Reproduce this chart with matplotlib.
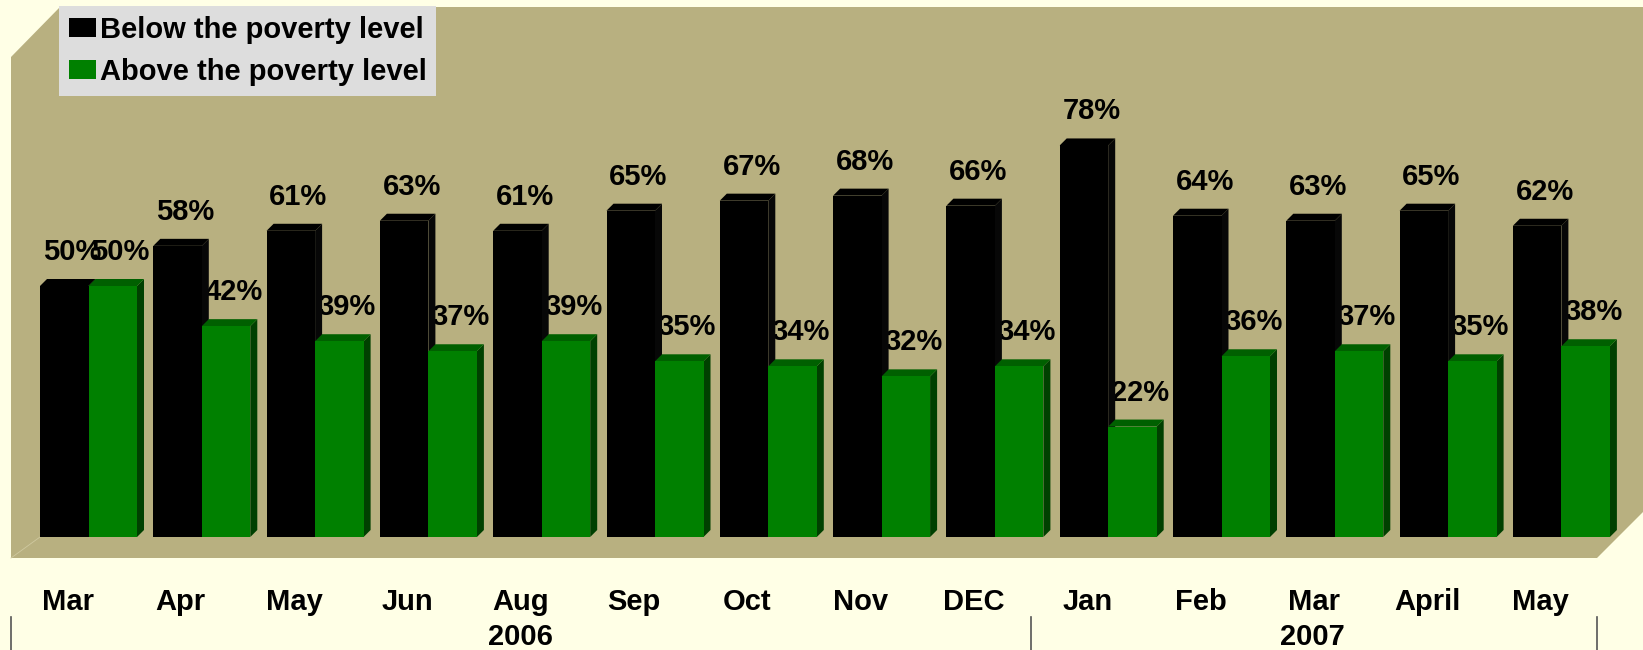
import matplotlib
matplotlib.use("Agg")
import matplotlib.pyplot as plt
from matplotlib.patches import Polygon, Patch
from matplotlib.lines import Line2D
import numpy as np

months = ["Mar", "Apr", "May", "Jun", "Aug", "Sep", "Oct", "Nov", "DEC", "Jan", "Feb", "Mar", "April", "May"]
below = [50, 58, 61, 63, 61, 65, 67, 68, 66, 78, 64, 63, 65, 62]
above = [50, 42, 39, 37, 39, 35, 34, 32, 34, 22, 36, 37, 35, 38]
series_names = ["Below the poverty level", "Above the poverty level"]
years = ["2006", "2007"]

W, H = 1643, 650
BG, WALL = "#FFFFE6", "#B8B080"
BLACK = ("#000000", "#000000", "#070707")
GREEN = ("#008000", "#006000", "#004000")
FONT = ["Liberation Sans", "DejaVu Sans"]
FS = 21

plt.rcParams["font.family"] = FONT
plt.rcParams["font.weight"] = "bold"
fig = plt.figure(figsize=(W / 100, H / 100), dpi=100, facecolor=BG)


def fx(px):
    return px / W


def fy(py):
    return 1 - py / H


# plot wall and floor, with the category divider lines, in figure pixels
wall = [(11, 57), (60, 7), (W, 7), (W, 512), (1597, 558), (11, 558)]
fig.patches.append(Polygon([(fx(a), fy(b)) for a, b in wall], closed=True, transform=fig.transFigure,
                           facecolor=WALL, edgecolor="none", zorder=-2))
fig.add_artist(Line2D([fx(11), fx(40)], [fy(558), fy(537)], color="#CFC9A0", lw=0.6, zorder=-1))
for px in (11, 1031, 1597):
    fig.add_artist(Line2D([fx(px), fx(px)], [fy(617), fy(650)], color="#555555", lw=1.2, zorder=-1))

BASE = 537
PX_PCT = 5.02
PITCH = 113.3
CENTER0 = 88.5
ax = fig.add_axes([0, 1 - BASE / H, 1, BASE / H], zorder=2)
ax.set_xlim(-CENTER0 / PITCH, (W - CENTER0) / PITCH)
ax.set_ylim(0, BASE / PX_PCT)
ax.patch.set_visible(False)
for s in ax.spines.values():
    s.set_visible(False)
ax.set_yticks([])

x = np.arange(len(months))
bw = 48.5 / PITCH
dx, dy = 7 / PITCH, 7 / PX_PCT


def bars(xs, vals, cols, z):
    for xi, v in zip(xs, vals):
        l, r = xi, xi + bw
        ax.add_patch(Polygon([(r, 0), (r + dx, dy), (r + dx, v + dy), (r, v)], closed=True,
                             facecolor=cols[2], edgecolor="none", zorder=z))
        ax.add_patch(Polygon([(l, v), (l + dx, v + dy), (r + dx, v + dy), (r, v)], closed=True,
                             facecolor=cols[1], edgecolor="none", zorder=z))
    ax.bar(xs, vals, width=bw, align="edge", color=cols[0], linewidth=0, zorder=z + 0.1)


bars(x - bw, below, BLACK, 3)
bars(x, above, GREEN, 4)


def labels(xs, vals, z):
    for xi, v in zip(xs, vals):
        ax.annotate(f"{v}%", (xi, v), xytext=(0, 26), textcoords="offset pixels", ha="center",
                    va="baseline", fontsize=FS, fontweight="bold", color="#000000", zorder=z,
                    annotation_clip=False)


labels(x - bw / 2 + 7.5 / PITCH, below, 5)
labels(x + bw / 2 + 7.5 / PITCH, above, 2)

ax.set_xticks(x - 21 / PITCH, months)
ax.tick_params(axis="x", length=0, pad=37, labelsize=FS)
for t in ax.get_xticklabels():
    t.set_fontweight("bold")

for yr, px in zip(years, (520, 1312)):
    fig.text(fx(px), fy(645), yr, ha="center", va="baseline", fontsize=FS, fontweight="bold", color="#000000")

handles = [Patch(facecolor=BLACK[0], edgecolor="none"), Patch(facecolor=GREEN[0], edgecolor="none")]
leg = ax.legend(handles, series_names, loc="upper left", bbox_to_anchor=(fx(59), fy(6), 0, 0),
                bbox_transform=fig.transFigure, frameon=True, facecolor="#DDDDDD", edgecolor="none",
                framealpha=1, fancybox=False, fontsize=21, borderaxespad=0, borderpad=0.33,
                handlelength=0.93, handleheight=0.62, handletextpad=0.14, labelspacing=0.5)
leg.set_zorder(10)
for t in leg.get_texts():
    t.set_fontweight("bold")

fig.savefig("out.png", dpi=100, facecolor=BG)
